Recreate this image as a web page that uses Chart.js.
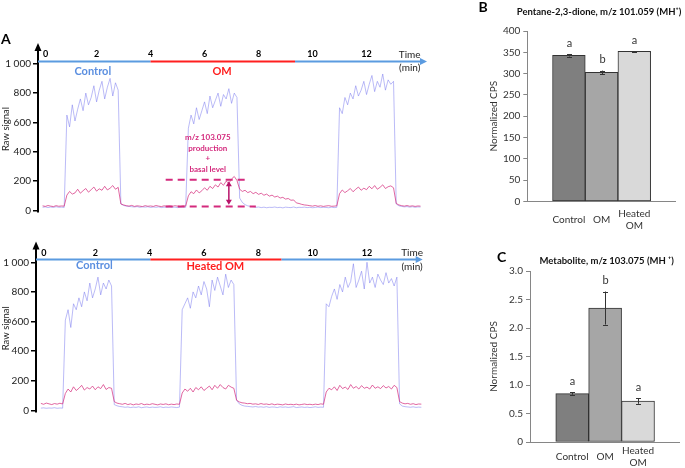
<!DOCTYPE html>
<html><head><meta charset="utf-8">
<script src="https://cdn.jsdelivr.net/npm/chart.js@4.4.1/dist/chart.umd.min.js"></script>
<style>
html,body{margin:0;padding:0;background:#fff;width:685px;height:468px;overflow:hidden;}
canvas{position:absolute;}
</style></head><body>
<canvas id="a1" width="440" height="200" style="left:0;top:20px"></canvas>
<canvas id="a2" width="440" height="200" style="left:0;top:220px"></canvas>
<canvas id="b" width="215" height="240" style="left:470px;top:0"></canvas>
<canvas id="c" width="215" height="228" style="left:470px;top:240px"></canvas>
<script>
// ---------- DATA ----------
const STEP = 0.1; // minutes between samples
const blueTop = [22,25,20,24,21,26,22,23,21,
 650,570,720,610,690,760,680,800,720,770,850,740,820,880,760,840,900,780,870,820,
 45,
 35,30,28,26,24,27,22,25,23,26,21,24,22,25,20,23,22,24,21,23,20,22,24,
 22,
 560,650,590,700,620,680,740,660,780,700,750,800,710,790,760,830,730,800,770,
 85,55,40,32,28,
 26,22,24,20,23,19,22,21,24,20,22,18,23,21,20,24,19,22,21,23,20,22,19,21,24,20,22,21,19,23,20,22,
 700,660,770,720,800,760,850,780,820,880,790,860,920,810,880,840,930,820,890,860,880,
 45,
 32,28,25,27,23,26,22,25,24];
const pinkTop = [32,28,34,30,27,33,29,31,30,
 105,130,112,120,145,118,135,150,125,142,160,132,148,138,165,140,152,170,145,158,
 45,
 38,33,30,35,28,32,30,27,33,29,31,28,34,30,27,32,29,31,28,33,30,27,31,
 30,
 100,128,115,140,120,135,155,138,165,150,175,160,190,172,200,185,215,232,205,
 145,130,138,122,130,115,124,110,118,104,112,98,105,92,98,85,90,78,82,70,72,52,48,42,38,36,
 33,30,34,29,32,28,31,33,29,30,32,
 115,140,122,135,150,128,145,160,138,152,142,165,148,170,145,158,175,150,162,168,155,
 48,
 38,33,30,34,29,32,28,31,30];
const blueBot = [16,18,15,17,16,19,15,17,16,
 610,680,560,720,680,760,700,800,740,860,760,820,900,780,860,820,880,840,
 40,
 32,27,25,22,24,20,23,21,25,19,22,24,20,23,21,22,25,20,23,21,24,22,20,23,
 680,720,760,690,800,760,840,780,870,820,700,880,810,900,840,780,920,830,880,850,
 70,45,35,
 30,28,26,24,27,23,25,22,26,21,24,23,20,25,22,24,21,23,26,20,22,24,21,23,20,22,25,21,23,22,
 720,700,770,820,750,850,800,900,830,870,990,830,880,940,820,1000,860,900,830,920,880,850,930,860,890,840,900,
 45,
 30,26,24,22,25,21,23,22];
const pinkBot = [48,42,50,45,40,47,43,49,44,
 115,145,125,160,135,150,170,138,155,145,165,140,160,148,175,142,155,150,
 60,
 50,46,42,48,40,45,38,44,41,47,39,43,40,46,42,38,44,41,45,39,43,40,44,42,
 118,145,130,150,125,155,140,160,135,150,165,140,170,150,175,155,145,170,158,150,
 70,58,52,
 50,46,48,43,45,41,47,42,44,40,45,39,43,41,38,44,40,42,39,43,38,41,44,40,42,39,43,40,45,42,
 125,150,140,160,135,170,148,158,142,175,150,162,145,168,150,158,145,172,150,160,148,168,152,162,145,170,155,
 60,
 50,45,48,42,46,40,44,43];

const timeTicks = [0,2,4,6,8,10,12];
const rawTickVals = [0,200,400,600,800,1000];
const rawTickLabels = ['0','200','400','600','800','1 000'];

const barCategories = [['Control'],['OM'],['Heated','OM']];
const pentaneValues = [343,303,352];
const pentaneErrors = [3,4,1];
const pentaneLetters = ['a','b','a'];
const metaboliteValues = [0.85,2.35,0.72];
const metaboliteErrors = [0.02,0.29,0.05];
const metaboliteLetters = ['a','b','a'];

// ---------- HELPERS ----------
Chart.defaults.font.family = 'Lato, "Liberation Sans", sans-serif';
Chart.defaults.animation = false;
const toXY = arr => arr.map((v,i)=>({x: Math.round(i*STEP*100)/100, y: v}));

const BLUE_TXT = '#5b8fe0', RED = '#ff1f1f', MAG = '#d42a7d';

const annotA = {
  id:'annotA',
  afterDraw(chart, args, o){
    const {ctx, scales:{x,y}, chartArea:ca} = chart;
    ctx.save();
    ctx.fillStyle='#000';
    ctx.beginPath(); ctx.moveTo(ca.left, ca.top-3); ctx.lineTo(ca.left-3.5, ca.top+5); ctx.lineTo(ca.left+3.5, ca.top+5); ctx.closePath(); ctx.fill();
    const ly = Math.round(y.getPixelForValue(o.lineV))+0.5;
    const xl = ca.left, xr = ca.right;
    const r0 = x.getPixelForValue(o.red[0]), r1 = x.getPixelForValue(o.red[1]);
    ctx.lineWidth = 2;
    ctx.strokeStyle = '#5b9be0';
    ctx.beginPath(); ctx.moveTo(xl, ly); ctx.lineTo(r0, ly); ctx.stroke();
    ctx.beginPath(); ctx.moveTo(r1, ly); ctx.lineTo(xr-5, ly); ctx.stroke();
    ctx.fillStyle = '#5b9be0';
    ctx.beginPath(); ctx.moveTo(xr, ly); ctx.lineTo(xr-7, ly-3.5); ctx.lineTo(xr-7, ly+3.5); ctx.closePath(); ctx.fill();
    ctx.strokeStyle = RED;
    ctx.beginPath(); ctx.moveTo(r0, ly); ctx.lineTo(r1, ly); ctx.stroke();
    ctx.fillStyle='#000'; ctx.textAlign='center'; ctx.textBaseline='middle';
    ctx.font='bold 9px Lato';
    timeTicks.forEach(t=>{
      let px = x.getPixelForValue(t);
      if (t===0) px += 3;
      ctx.fillText(String(t), px, y.getPixelForValue(o.tickV));
    });
    ctx.font='10px Lato'; ctx.fillStyle='#222';
    ctx.fillText('Time', x.getPixelForValue(o.timeT), y.getPixelForValue(o.timeV1));
    ctx.fillText('(min)', x.getPixelForValue(o.timeT), y.getPixelForValue(o.timeV2));
    ctx.font='bold 11px Lato';
    o.labels.forEach(l=>{
      ctx.fillStyle = l.color;
      ctx.fillText(l.text, x.getPixelForValue(l.t), y.getPixelForValue(l.v));
    });
    if (o.extra){
      const e = o.extra;
      ctx.font='bold 8px Lato'; ctx.fillStyle = MAG;
      e.lines.forEach((s,i)=> ctx.fillText(s, x.getPixelForValue(e.textT), y.getPixelForValue(e.textV[i])));
      ctx.strokeStyle = MAG; ctx.lineWidth = 2; ctx.setLineDash([7,5]);
      e.dashes.forEach(d=>{
        const py = y.getPixelForValue(d.v);
        ctx.beginPath(); ctx.moveTo(x.getPixelForValue(d.t0), py); ctx.lineTo(x.getPixelForValue(d.t1), py); ctx.stroke();
      });
      ctx.setLineDash([]);
      const ax = x.getPixelForValue(e.arrowT), ya = y.getPixelForValue(e.arrowV[1]), yb = y.getPixelForValue(e.arrowV[0]);
      ctx.strokeStyle='#b8136a'; ctx.fillStyle='#b8136a'; ctx.lineWidth=1.5;
      ctx.beginPath(); ctx.moveTo(ax, ya+3); ctx.lineTo(ax, yb-3); ctx.stroke();
      ctx.beginPath(); ctx.moveTo(ax, ya); ctx.lineTo(ax-3, ya+5); ctx.lineTo(ax+3, ya+5); ctx.closePath(); ctx.fill();
      ctx.beginPath(); ctx.moveTo(ax, yb); ctx.lineTo(ax-3, yb-5); ctx.lineTo(ax+3, yb-5); ctx.closePath(); ctx.fill();
    }
    if (o.panel){
      ctx.font='bold 14px Lato'; ctx.fillStyle='#000'; ctx.textAlign='left';
      ctx.fillText(o.panel, o.panelXY[0], o.panelXY[1]);
    }
    ctx.restore();
  }
};

function rawChart(id, blue, pink, xMin, xMax, axisW, pad, annot){
  return new Chart(document.getElementById(id), {
    type:'line',
    data:{datasets:[
      {data: toXY(pink), borderColor:'rgba(214,45,125,0.72)', borderWidth:1, pointRadius:0, tension:0},
      {data: toXY(blue), borderColor:'rgba(120,120,240,0.5)', borderWidth:1, pointRadius:0, tension:0}
    ]},
    options:{
      responsive:false, events:[],
      layout:{padding:pad},
      plugins:{legend:{display:false}, tooltip:{enabled:false}, annotA: annot},
      scales:{
        x:{type:'linear', display:false, min:xMin, max:xMax},
        y:{min:-10, max:1120,
           afterFit:s=>{s.width=axisW;},
           afterBuildTicks:s=>{s.ticks = rawTickVals.map(v=>({value:v}));},
           ticks:{callback:(v)=>rawTickLabels[rawTickVals.indexOf(v)], font:{size:10}, color:'#222', padding:2},
           grid:{drawOnChartArea:false, drawTicks:true, tickLength:5, color:'#000', lineWidth:1.5},
           border:{color:'#000', width:2},
           title:{display:true, text:'Raw signal', font:{size:9.5}, color:'#222', padding:{top:0,bottom:0}}
        }
      }
    },
    plugins:[annotA]
  });
}

rawChart('a1', blueTop, pinkTop, -0.17, 14.24, 38, {left:0,right:13,top:26.1,bottom:7.8}, {
  lineV:1020, red:[4,9.35], tickV:1066, timeT:13.6, timeV1:1059, timeV2:973,
  labels:[{text:'Control', t:1.86, v:945, color:BLUE_TXT},{text:'OM', t:6.65, v:945, color:RED}],
  extra:{lines:['m/z 103.075','production','+','basal level'], textT:6.12, textV:[499,420,352,282],
    dashes:[{v:210,t0:4.56,t1:7.66},{v:27,t0:4.56,t1:7.9}], arrowT:6.9, arrowV:[40,200]},
  panel:'A', panelXY:[1,19]
});
rawChart('a2', blueBot, pinkBot, -0.18, 14.05, 36, {left:0,right:17.3,top:24.5,bottom:7.8}, {
  lineV:1022, red:[4.03,8.85], tickV:1061, timeT:13.66, timeV1:1063, timeV2:970,
  labels:[{text:'Control', t:1.97, v:977, color:BLUE_TXT},{text:'Heated OM', t:6.42, v:974, color:RED}]
});

// ---------- BAR PANELS ----------
const barAnnot = {
  id:'barAnnot',
  afterDatasetsDraw(chart, args, o){
    const {ctx, scales:{x,y}, chartArea:ca} = chart;
    ctx.save();
    ctx.strokeStyle='#333'; ctx.lineWidth=1;
    ctx.textAlign='center'; ctx.textBaseline='middle';
    o.values.forEach((v,i)=>{
      const px = Math.round(x.getPixelForValue(i+1))+0.5;
      const e = o.errors[i];
      const y1 = y.getPixelForValue(v-e), y2 = y.getPixelForValue(v+e);
      ctx.beginPath(); ctx.moveTo(px,y1); ctx.lineTo(px,y2);
      ctx.moveTo(px-2.5,Math.round(y1)+0.5); ctx.lineTo(px+2.5,Math.round(y1)+0.5);
      ctx.moveTo(px-2.5,Math.round(y2)+0.5); ctx.lineTo(px+2.5,Math.round(y2)+0.5);
      ctx.stroke();
      ctx.font='11px Lato'; ctx.fillStyle='#333';
      ctx.fillText(o.letters[i], px, y2-11);
    });
    ctx.font='bold '+o.titleSize+'px Lato'; ctx.fillStyle='#111';
    ctx.fillText(o.title, o.titleX, o.titleY);
    ctx.font='bold 14px Lato'; ctx.fillStyle='#000';
    ctx.fillText(o.panel, o.panelXY[0], o.panelXY[1]);
    ctx.restore();
  }
};

function barChart(id, values, opts){
  return new Chart(document.getElementById(id), {
    type:'bar',
    data:{datasets:[{
      data: values.map((v,i)=>({x:i+1, y:v})),
      backgroundColor:['#7f7f7f','#a6a6a6','#d9d9d9'],
      borderColor:'#333', borderWidth:1, borderSkipped:false,
      barPercentage:1, categoryPercentage:1
    }]},
    options:{
      responsive:false, events:[],
      layout:{padding:opts.pad},
      plugins:{legend:{display:false}, tooltip:{enabled:false}, barAnnot: opts.annot},
      scales:{
        x:{type:'linear', offset:false, min:opts.xMin, max:opts.xMax,
           afterFit:s=>{s.height=opts.xH;},
           afterBuildTicks:s=>{s.ticks = barCategories.map((c,i)=>({value:i+1}));},
           ticks:{callback:(v)=>barCategories[v-1], font:{size:10}, color:'#333', padding:opts.xPad, autoSkip:false, maxRotation:0, crossAlign:'center'},
           grid:{display:false},
           border:{color:'#868686', width:1}
        },
        y:{min:opts.yMin, max:opts.yMax,
           afterFit:s=>{s.width=opts.yW;},
           ticks:{stepSize:opts.step, callback:opts.fmt, font:{size:10}, color:'#333', padding:3},
           grid:{drawOnChartArea:false, drawTicks:true, tickLength:4, color:'#868686'},
           border:{color:'#868686', width:1},
           title:{display:true, text:'Normalized CPS', font:{size:10}, color:'#333', padding:{top:18,bottom:0}}
        }
      }
    },
    plugins:[barAnnot]
  });
}

barChart('b', pentaneValues, {
  pad:{left:0,right:10,top:31,bottom:8.7}, xMin:-0.272, xMax:4.245, xH:30, xPad:4, yW:57.3,
  yMin:0, yMax:400, step:50, fmt:(v)=>String(v),
  annot:{values:pentaneValues, errors:pentaneErrors, letters:pentaneLetters, titleSize:9.5,
    title:'Pentane-2,3-dione, m/z 101.059 (MH\u207A)', titleX:129, titleY:12.3, panel:'B', panelXY:[13,7]}
});
barChart('c', metaboliteValues, {
  pad:{left:0,right:5.5,top:31,bottom:0}, xMin:-0.283, xMax:4.26, xH:26, xPad:1, yW:60,
  yMin:0, yMax:3, step:0.5, fmt:(v)=> v===0 ? '0' : v.toFixed(1),
  annot:{values:metaboliteValues, errors:metaboliteErrors, letters:metaboliteLetters, titleSize:9.5,
    title:'Metabolite, m/z 103.075 (MH \u207A)', titleX:136.7, titleY:20.7, panel:'C', panelXY:[31.7,17]}
});
</script>
</body></html>
